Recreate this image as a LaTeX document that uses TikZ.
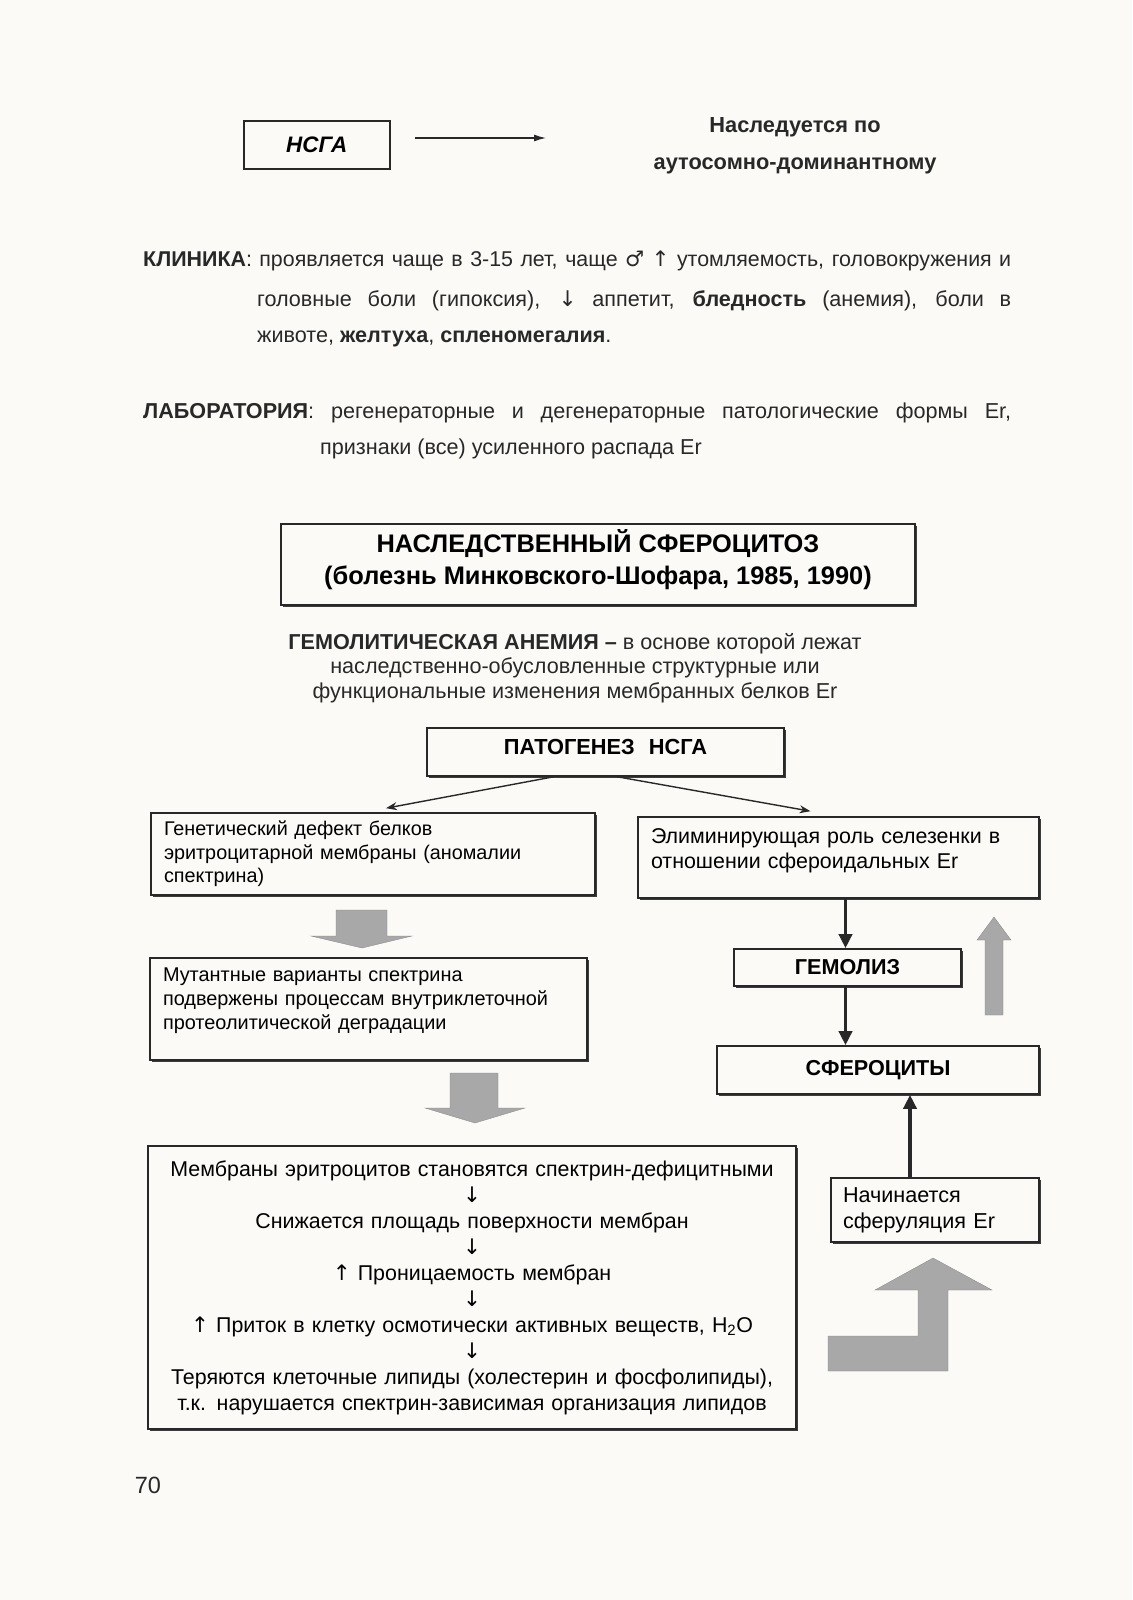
\documentclass[tikz,border=0pt]{standalone}
\usepackage{fontspec}
\setmainfont{Liberation Sans}
\newfontfamily\symf{DejaVu Sans}
\usetikzlibrary{arrows.meta,shadows,calc}
\definecolor{ink}{RGB}{40,40,40}
\definecolor{paper}{RGB}{251,250,247}
\definecolor{shade}{RGB}{168,168,168}
\newcommand{\fs}[2]{\fontsize{#1pt}{#2pt}\selectfont}
\newcommand{\xdepth}[1]{\rule[-#1pt]{0pt}{0pt}}
\tikzset{
  box/.style={draw=ink, line width=1.6pt, fill=paper, inner sep=0pt,
    drop shadow={shadow xshift=1.6pt, shadow yshift=-1.6pt, opacity=0.9, fill=ink}},
  lbox/.style={box, align=left, inner xsep=13pt},
  txt/.style={inner sep=0pt, text=ink},
  thinarrow/.style={draw=ink, line width=1.4pt, -{Stealth[length=11pt,width=8pt]}},
  thickarrow/.style={draw=ink, line width=3.6pt, -{Triangle[length=14pt,width=13pt]}},
  blockarrow/.style={fill=shade, draw=shade!80!black, line width=0.3pt},
}
\begin{document}
\begin{tikzpicture}[x=1pt,y=-1pt]
\fill[paper] (0,0) rectangle (1132,1600);
\useasboundingbox (0,0) rectangle (1132,1600);

% top
\node[box, minimum width=146pt, minimum height=48pt, anchor=north west, font=\fs{22.4}{26}\bfseries\itshape] (nsga) at (243,120) {НСГА};
\node[txt, align=center, font=\fs{21.8}{37}\bfseries] (inh) at (795,146) {Наследуется по\\ аутосомно-доминантному};
\coordinate (a1) at (415,138);
\coordinate (a2) at (546,138);
\draw[draw=ink, line width=1.3pt, -{Latex[length=12pt,width=7pt]}] (a1) -- (a2);

% clinic
\node[txt, anchor=base west, font=\fs{21.4}{24}] (kl1) at (143,266) {\makebox[868pt][s]{\textbf{КЛИНИКА}: проявляется чаще в 3-15 лет, чаще {\symf ♂} {\symf ↑} утомляемость, головокружения и}};
\node[txt, anchor=base west, font=\fs{21.6}{24}] (kl2) at (257,306) {\makebox[754pt][s]{головные боли (гипоксия), {\symf ↓} аппетит, \textbf{бледность} (анемия), боли в}};
\node[txt, anchor=base west, font=\fs{21.6}{24}] (kl3) at (257,342) {животе, \textbf{желтуха}, \textbf{спленомегалия}.};
\node[txt, anchor=base west, font=\fs{21.6}{24}] (lab1) at (143,418) {\makebox[868pt][s]{\textbf{ЛАБОРАТОРИЯ}: регенераторные и дегенераторные патологические формы Er,}};
\node[txt, anchor=base west, font=\fs{21.6}{24}] (lab2) at (320,454) {признаки (все) усиленного распада Er};

% title
\node[box, line width=1.9pt, minimum width=634pt, minimum height=81pt, align=center, font=\fs{25.4}{32}\bfseries] (title) at (598,564.5) {НАСЛЕДСТВЕННЫЙ СФЕРОЦИТОЗ\\ (болезнь Минковского-Шофара, 1985, 1990)\xdepth{15}};
\node[txt, align=center, font=\fs{21.6}{24.5}] (def) at (575,668) {\textbf{ГЕМОЛИТИЧЕСКАЯ АНЕМИЯ –} в основе которой лежат\\ наследственно-обусловленные структурные или\\ функциональные изменения мембранных белков Er};

% pathogenesis
\node[box, minimum width=357pt, minimum height=48pt, font=\fs{21.8}{24}\bfseries] (pat) at (605.5,752) {ПАТОГЕНЕЗ\hspace{14pt}НСГА\xdepth{10}};
\node[lbox, text width=418pt, minimum height=82pt, font=\fs{19.8}{23.5}] (lb1) at (373,854) {Генетический дефект белков\\ эритроцитарной мембраны (аномалии\\ спектрина)};
\node[lbox, text width=375pt, minimum height=81pt, font=\fs{21.4}{24.5}] (rb1) at (838.5,857.5) {Элиминирующая роль селезенки в\\ отношении сфероидальных Er\xdepth{18}};
\node[lbox, text width=411pt, minimum height=102pt, font=\fs{19.9}{24}] (lb2) at (368.5,1009) {Мутантные варианты спектрина\\ подвержены процессам внутриклеточной\\ протеолитической деградации\xdepth{20}};
\node[box, minimum width=227pt, minimum height=37pt, font=\fs{21.6}{24}\bfseries] (gem) at (847.5,967.5) {ГЕМОЛИЗ};
\node[box, minimum width=322pt, minimum height=48pt, font=\fs{21.6}{24}\bfseries] (sph) at (878,1070) {СФЕРОЦИТЫ};
\node[box, align=center, text width=630pt, minimum width=648pt, minimum height=283pt, font=\fs{21.4}{26}] (bb) at (472,1287.5) {Мембраны эритроцитов становятся спектрин-дефицитными\\ {\symf ↓}\\ Снижается площадь поверхности мембран\\ {\symf ↓}\\ {\symf ↑} Проницаемость мембран\\ {\symf ↓}\\ {\symf ↑} Приток в клетку осмотически активных веществ, H\textsubscript{2}O\\ {\symf ↓}\\ Теряются клеточные липиды (холестерин и фосфолипиды),\\ т.к. нарушается спектрин-зависимая организация липидов};
\node[lbox, inner xsep=12pt, text width=184pt, minimum height=64pt, font=\fs{21.6}{26}] (nach) at (935,1210) {Начинается\\ сферуляция Er};

% connectors
\draw[thinarrow] ([xshift=-52pt]pat.south) -- ([xshift=13pt,yshift=4pt]lb1.north);
\draw[thinarrow] ([xshift=12pt]pat.south) -- ([xshift=-28pt,yshift=5pt]rb1.north);
\draw[thickarrow] ([xshift=-2pt]gem.north |- rb1.south) -- ([xshift=-2pt]gem.north);
\draw[thickarrow] ([xshift=-2pt]gem.south) -- ([xshift=-2pt]gem.south |- sph.north);
\draw[thickarrow] ([xshift=-25pt]nach.north) -- ([xshift=-25pt]nach.north |- sph.south);

% block arrows
\path[blockarrow] (336,910) -- (387,910) -- (387,936) -- (412,936) -- (362,948) -- (311,936) -- (336,936) -- cycle;
\path[blockarrow] (450,1073) -- (498,1073) -- (498,1108) -- (525,1108) -- (475,1123) -- (425,1108) -- (450,1108) -- cycle;
\path[blockarrow] (985,1015) -- (985,940) -- (977,940) -- (994,917) -- (1011,940) -- (1003,940) -- (1003,1015) -- cycle;
\path[blockarrow] (828,1336) -- (918,1336) -- (918,1290) -- (875,1290) -- (933,1258) -- (992,1290) -- (948,1290) -- (948,1371) -- (828,1371) -- cycle;

\node[txt, font=\fs{23.5}{26}] (pg) at (148,1485) {70};
\end{tikzpicture}
\end{document}
